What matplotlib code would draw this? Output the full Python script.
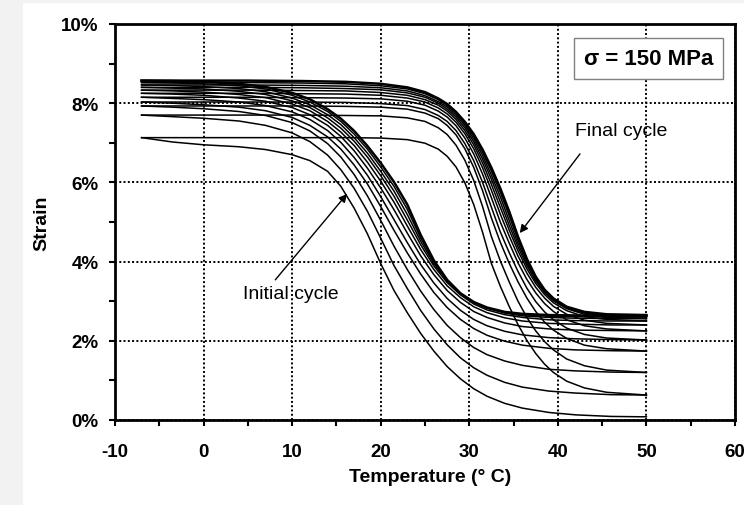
import matplotlib
matplotlib.use("Agg")
import matplotlib.pyplot as plt
from matplotlib.patches import Rectangle

plt.rcParams['font.family'] = ['Liberation Sans', 'DejaVu Sans']

# ---------------- data (strain in %, temperature in deg C) ----------------
# Cooling branches, read from hot (50 C) to cold (-7 C)
COOL_T = [50, 46, 42, 39, 36, 34, 32, 30.5, 29, 27.5, 26, 24.5, 23, 21.5, 20,
          18.5, 17, 15.5, 14, 12, 10, 7, 4, 0, -3.5, -7]
cool_1 = [0.08,0.09,0.13,0.19,0.30,0.42,0.60,0.79,1.04,1.35,1.74,2.19,2.71,3.27,3.95,4.70,5.35,5.90,6.28,6.55,6.70,6.83,6.90,6.95,7.02,7.13]
cool_2 = [0.63,0.64,0.68,0.73,0.83,0.95,1.13,1.32,1.57,1.90,2.30,2.77,3.32,3.90,4.59,5.27,5.85,6.32,6.69,7.03,7.25,7.44,7.55,7.62,7.66,7.70]
cool_3 = [1.20,1.21,1.24,1.28,1.38,1.49,1.65,1.83,2.08,2.39,2.79,3.26,3.80,4.39,5.04,5.66,6.20,6.64,6.98,7.30,7.51,7.69,7.79,7.86,7.90,7.93]
cool_4 = [1.74,1.75,1.77,1.81,1.89,1.99,2.14,2.31,2.54,2.84,3.22,3.69,4.22,4.79,5.39,5.96,6.44,6.84,7.15,7.44,7.64,7.81,7.90,7.96,8.00,8.03]
cool_5 = [2.02,2.03,2.05,2.08,2.15,2.24,2.38,2.54,2.77,3.07,3.46,3.93,4.48,5.06,5.64,6.18,6.63,7.01,7.31,7.59,7.78,7.94,8.03,8.09,8.12,8.15]
cool_6 = [2.25,2.26,2.27,2.30,2.36,2.45,2.59,2.74,2.97,3.27,3.67,4.15,4.72,5.31,5.86,6.36,6.80,7.16,7.44,7.71,7.89,8.05,8.13,8.20,8.23,8.25]
cool_7 = [2.40,2.40,2.42,2.44,2.50,2.58,2.71,2.86,3.09,3.39,3.80,4.31,4.90,5.50,6.03,6.51,6.93,7.27,7.54,7.81,7.98,8.14,8.22,8.28,8.31,8.33]
cool_8 = [2.50,2.50,2.51,2.53,2.59,2.66,2.78,2.93,3.16,3.47,3.89,4.43,5.05,5.65,6.17,6.64,7.04,7.37,7.63,7.89,8.06,8.22,8.30,8.36,8.38,8.40]
cool_9 = [2.56,2.56,2.57,2.59,2.63,2.70,2.82,2.97,3.19,3.51,3.95,4.52,5.19,5.78,6.28,6.74,7.13,7.46,7.71,7.96,8.13,8.29,8.37,8.42,8.45,8.46]
cool_10 = [2.60,2.60,2.61,2.62,2.66,2.72,2.83,2.98,3.20,3.53,4.00,4.60,5.32,5.90,6.39,6.84,7.22,7.54,7.79,8.03,8.20,8.36,8.44,8.49,8.51,8.52]
cool_11 = [2.63,2.63,2.64,2.65,2.68,2.73,2.84,2.98,3.20,3.54,4.03,4.68,5.44,6.01,6.49,6.92,7.30,7.61,7.85,8.10,8.26,8.41,8.49,8.54,8.56,8.57]

# Heating branches, read from cold (-7 C) to hot (50 C)
HEAT_T = [-7, -1, 5, 11, 16, 20, 23, 25, 26.5, 27.5, 28.5, 29.5, 30.5, 31.5, 32.5,
          33.5, 34.5, 35.5, 36.5, 37.5, 38.5, 39.5, 41, 43, 45.5, 50]
heat_1 = [7.13,7.13,7.13,7.13,7.13,7.12,7.08,6.99,6.84,6.66,6.39,5.99,5.44,4.74,3.95,3.38,2.87,2.41,2.01,1.68,1.41,1.20,0.98,0.81,0.70,0.63]
heat_2 = [7.70,7.70,7.70,7.70,7.69,7.68,7.63,7.54,7.38,7.21,6.94,6.56,6.05,5.39,4.63,4.02,3.49,3.00,2.59,2.25,1.98,1.77,1.54,1.37,1.26,1.20]
heat_3 = [7.93,7.93,7.93,7.93,7.92,7.90,7.85,7.75,7.61,7.44,7.20,6.85,6.38,5.79,5.10,4.49,3.96,3.49,3.08,2.74,2.47,2.27,2.06,1.89,1.80,1.74]
heat_4 = [8.03,8.03,8.03,8.03,8.02,7.99,7.94,7.84,7.69,7.54,7.31,6.98,6.55,6.00,5.37,4.75,4.23,3.75,3.33,2.99,2.73,2.53,2.32,2.16,2.07,2.02]
heat_5 = [8.15,8.15,8.15,8.14,8.13,8.11,8.05,7.95,7.80,7.65,7.43,7.12,6.72,6.21,5.61,5.00,4.47,3.97,3.55,3.21,2.94,2.74,2.53,2.38,2.30,2.25]
heat_6 = [8.25,8.25,8.25,8.24,8.23,8.20,8.13,8.03,7.88,7.73,7.52,7.23,6.85,6.37,5.80,5.20,4.65,4.14,3.71,3.35,3.08,2.87,2.67,2.52,2.44,2.40]
heat_7 = [8.33,8.33,8.33,8.32,8.31,8.27,8.20,8.09,7.95,7.80,7.59,7.31,6.95,6.49,5.95,5.37,4.80,4.27,3.82,3.45,3.17,2.96,2.76,2.61,2.54,2.50]
heat_8 = [8.40,8.40,8.40,8.39,8.37,8.34,8.26,8.15,8.00,7.85,7.65,7.38,7.03,6.59,6.08,5.51,4.92,4.37,3.90,3.51,3.22,3.01,2.81,2.67,2.59,2.56]
heat_9 = [8.46,8.46,8.46,8.45,8.43,8.39,8.31,8.19,8.04,7.90,7.70,7.44,7.10,6.68,6.18,5.64,5.04,4.46,3.96,3.56,3.26,3.04,2.83,2.70,2.63,2.60]
heat_10 = [8.52,8.52,8.52,8.51,8.49,8.44,8.36,8.24,8.09,7.94,7.75,7.49,7.16,6.76,6.28,5.75,5.16,4.55,4.02,3.59,3.28,3.06,2.85,2.72,2.66,2.63]
heat_11 = [8.57,8.57,8.57,8.56,8.54,8.49,8.40,8.28,8.12,7.98,7.78,7.53,7.22,6.83,6.37,5.85,5.27,4.63,4.07,3.62,3.29,3.07,2.86,2.73,2.67,2.65]

x_ticks = [-10, 0, 10, 20, 30, 40, 50, 60]
x_tick_labels = ['-10', '0', '10', '20', '30', '40', '50', '60']
y_ticks = [0, 2, 4, 6, 8, 10]
y_tick_labels = ['0%', '2%', '4%', '6%', '8%', '10%']

cooling = [cool_1, cool_2, cool_3, cool_4, cool_5, cool_6, cool_7, cool_8, cool_9, cool_10, cool_11]
heating = [heat_1, heat_2, heat_3, heat_4, heat_5, heat_6, heat_7, heat_8, heat_9, heat_10, heat_11]

# ---------------- figure ----------------
W, H = 744, 506
fig = plt.figure(figsize=(W/100, H/100), dpi=100)
fig.patch.set_facecolor('#f2f2f2')
fig.add_artist(Rectangle((23/W, 0), 1, 502/H, transform=fig.transFigure,
                         facecolor='white', edgecolor='none', zorder=0))
ax = fig.add_axes([115/W, 85/H, 620/W, 396/H])
ax.set_xlim(-10, 60)
ax.set_ylim(0, 10)

n = len(cooling)
for k in range(n):
    lw = 1.8 if k == n - 1 else 1.1
    ax.plot(COOL_T, cooling[k], color='black', lw=lw, zorder=3)
    ax.plot(HEAT_T, heating[k], color='black', lw=lw, zorder=3)

ax.set_xticks(x_ticks)
ax.set_xticklabels(x_tick_labels)
ax.set_yticks(y_ticks)
ax.set_yticklabels(y_tick_labels)
ax.set_xticks([-5, 5, 15, 25, 35, 45, 55], minor=True)
ax.set_yticks([1, 3, 5, 7, 9], minor=True)
for lab in ax.get_xticklabels() + ax.get_yticklabels():
    lab.set_fontweight('bold')
ax.tick_params(axis='both', which='both', direction='out', length=4.3, width=1.5,
               color='black', labelsize=13.5)
ax.tick_params(axis='x', which='major', pad=12)
ax.tick_params(axis='y', which='major', pad=7.5)

for s in ax.spines.values():
    s.set_linewidth(2.0)
    s.set_color('black')

ax.grid(which='major', color='black', linestyle=(0, (1, 1.2)), linewidth=1.4, zorder=1)
ax.set_axisbelow(True)

ax.set_xlabel('Temperature (° C)', fontsize=14, fontweight='bold')
ax.set_ylabel('Strain', fontsize=14, fontweight='bold')
ax.xaxis.set_label_coords(0.508, -0.12)
ax.yaxis.set_label_coords(-0.105, 0.5)

ax.text(50.2, 9.14, 'σ = 150 MPa', ha='center', va='center', fontsize=16,
        fontweight='bold', zorder=5,
        bbox=dict(boxstyle='square,pad=0.45', facecolor='white', edgecolor='#808080', linewidth=1.0))

arrow = dict(arrowstyle='-|>', color='black', lw=1.0, mutation_scale=12, shrinkA=0, shrinkB=0)
ax.annotate('', xy=(16.2, 5.71), xytext=(8.1, 3.54), arrowprops=arrow, zorder=5)
ax.text(9.8, 3.19, 'Initial cycle', ha='center', va='center', fontsize=14, zorder=5)
ax.annotate('', xy=(35.7, 4.72), xytext=(42.5, 6.72), arrowprops=arrow, zorder=5)
ax.text(47.2, 7.31, 'Final cycle', ha='center', va='center', fontsize=14, zorder=5)

fig.savefig('out.png', dpi=100, facecolor=fig.get_facecolor())
